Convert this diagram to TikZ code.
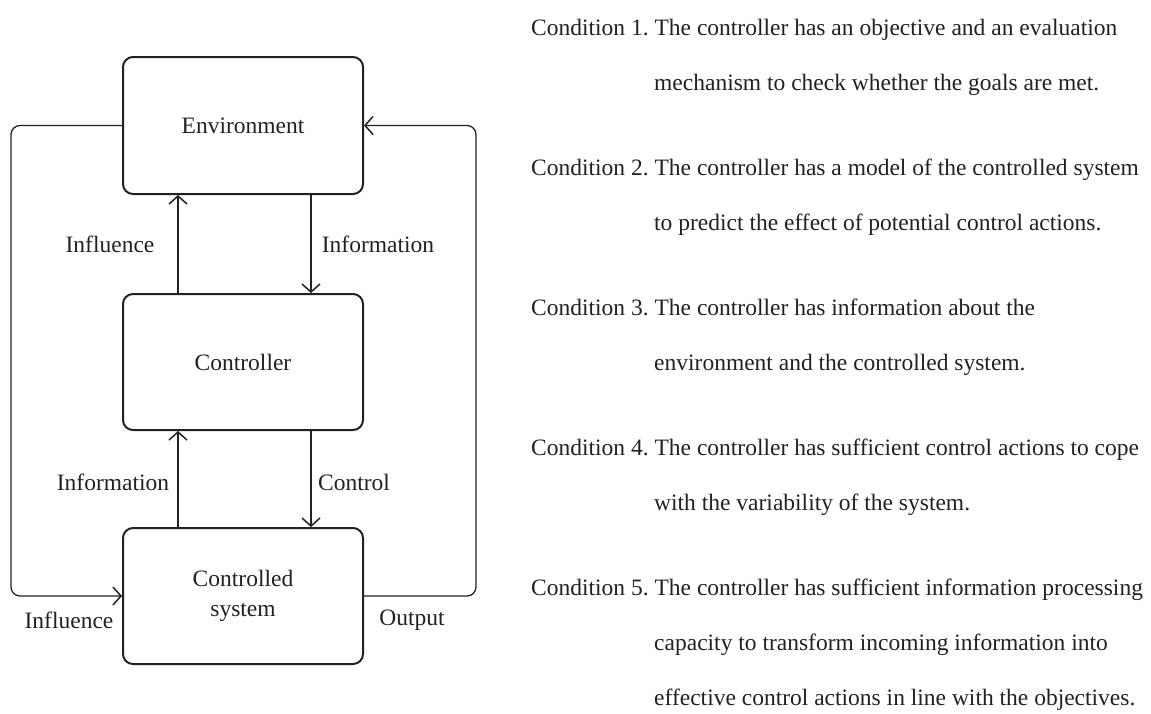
\documentclass[tikz,border=0pt]{standalone}
\usepackage{fontspec}
\setmainfont{Liberation Serif}
\usetikzlibrary{arrows.meta}
\definecolor{ink}{HTML}{222222}
\frenchspacing
\begin{document}
\begin{tikzpicture}[x=1pt,y=-1pt,
  font=\fontsize{23.5}{30}\selectfont,
  every node/.style={text=ink},
  blk/.style={draw=ink, line width=2pt, rounded corners=10pt, minimum width=240pt, inner sep=0pt, align=center},
  conn/.style={draw=ink, line width=1.3pt, -{Straight Barb[length=8pt,width=18pt,line width=1.5pt]}},
  lbl/.style={inner sep=0pt},
  cond/.style={anchor=base west, inner sep=0pt}]
\useasboundingbox (0,0) rectangle (1151,713);
\fill[white] (0,0) rectangle (1151,713);

\node[blk, minimum height=137pt] (env) at (243,125.5) {Environment};
\node[blk, minimum height=136pt] (ctl) at (243,362) {Controller};
\node[blk, minimum height=136pt] (cs) at (243,596) {Controlled\\system};

\coordinate (lx) at (11,0);
\coordinate (rx) at (476,0);

\draw[conn] ([xshift=-65pt]ctl.north) -- ([xshift=-65pt]env.south);
\draw[conn] ([xshift=68pt]env.south) -- ([xshift=68pt]ctl.north);
\draw[conn] ([xshift=-65pt]cs.north) -- ([xshift=-65pt]ctl.south);
\draw[conn] ([xshift=68pt]ctl.south) -- ([xshift=68pt]cs.north);
\draw[conn, rounded corners=9pt] (env.west) -- (lx |- env.west) -- (lx |- cs.west) -- (cs.west);
\draw[conn, rounded corners=9pt] (cs.east) -- (rx |- cs.east) -- (rx |- env.east) -- (env.east);

\node[lbl] (l1) at (110,244) {Influence};
\node[lbl] (l2) at (378,244) {Information};
\node[lbl] (l3) at (113,482) {Information};
\node[lbl] (l4) at (354,482) {Control};
\node[lbl] (l5) at (69,620) {Influence};
\node[lbl] (l6) at (412,620) {Output};

\node[cond] (c1) at (531,35) {Condition 1. The controller has an objective and an evaluation};
\node[cond] (c1b) at (654,90) {mechanism to check whether the goals are met.};
\node[cond] (c2) at (531,175) {Condition 2. The controller has a model of the controlled system};
\node[cond] (c2b) at (654,230) {to predict the effect of potential control actions.};
\node[cond] (c3) at (531,315) {Condition 3. The controller has information about the};
\node[cond] (c3b) at (654,370) {environment and the controlled system.};
\node[cond] (c4) at (531,455) {Condition 4. The controller has sufficient control actions to cope};
\node[cond] (c4b) at (654,510) {with the variability of the system.};
\node[cond] (c5) at (531,595) {Condition 5. The controller has sufficient information processing};
\node[cond] (c5b) at (654,650) {capacity to transform incoming information into};
\node[cond] (c5c) at (654,705) {effective control actions in line with the objectives.};
\end{tikzpicture}
\end{document}
